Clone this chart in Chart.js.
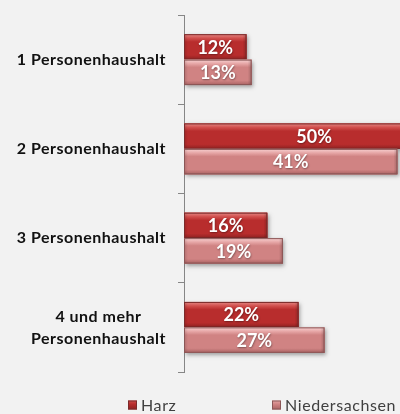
<!DOCTYPE html>
<html><head><meta charset="utf-8">
<script src="https://cdn.jsdelivr.net/npm/chart.js@4"></script>
<style>html,body{margin:0;padding:0;background:#f2f2f2;overflow:hidden}#wrap{width:400px;height:414px;position:relative}</style>
</head><body><div id="wrap"><canvas id="c"></canvas></div>
<script>
const categories = [["1 Personenhaushalt"], ["2 Personenhaushalt"], ["3 Personenhaushalt"], ["4 und mehr", "Personenhaushalt"]];
const seriesNames = ["Harz", "Niedersachsen"];
const harz = [12, 50, 16, 22];
const niedersachsen = [13, 41, 19, 27];

const barStyle = [
  {top: '#e58885', hi: '#d04e4c', main: '#b82d2d', low: '#8f2121', edge: '#7a2b2b'},
  {top: '#f8d2d2', hi: '#e6a6a6', main: '#d08383', low: '#a96262', edge: '#8a5656'}
];

const barPainter = {
  id: 'barPainter',
  afterDatasetsDraw(chart) {
    const ctx = chart.ctx, a = chart.chartArea;
    ctx.save();
    ctx.beginPath(); ctx.rect(a.left, a.top - 5, a.right - a.left + 5, a.bottom - a.top + 10); ctx.clip();
    chart.data.datasets.forEach((ds, di) => {
      const meta = chart.getDatasetMeta(di), st = barStyle[di];
      meta.data.forEach((el) => {
        const x0 = el.base, x1 = el.x, h = el.height, y0 = el.y - h / 2, w = x1 - x0;
        ctx.save();
        ctx.shadowColor = 'rgba(0,0,0,0.35)'; ctx.shadowBlur = 4; ctx.shadowOffsetX = 1.5; ctx.shadowOffsetY = 2;
        ctx.fillStyle = st.main; ctx.fillRect(x0, y0, w, h);
        ctx.restore();
        const g = ctx.createLinearGradient(0, y0, 0, y0 + h);
        g.addColorStop(0, st.top); g.addColorStop(0.16, st.hi); g.addColorStop(0.3, st.main);
        g.addColorStop(0.82, st.main); g.addColorStop(1, st.low);
        ctx.fillStyle = g; ctx.fillRect(x0, y0, w, h);
        const gl = ctx.createLinearGradient(x0, 0, x0 + 4, 0);
        gl.addColorStop(0, 'rgba(0,0,0,0.15)'); gl.addColorStop(1, 'rgba(0,0,0,0)');
        ctx.fillStyle = gl; ctx.fillRect(x0, y0, 4, h);
        const gr = ctx.createLinearGradient(x1 - 4, 0, x1, 0);
        gr.addColorStop(0, 'rgba(0,0,0,0)'); gr.addColorStop(1, 'rgba(0,0,0,0.2)');
        ctx.fillStyle = gr; ctx.fillRect(x1 - 4, y0, 4, h);
        ctx.strokeStyle = st.edge; ctx.lineWidth = 1;
        ctx.strokeRect(x0 + 0.5, y0 + 0.5, w - 1, h - 1);
      });
    });
    ctx.restore();
    // value labels
    ctx.save();
    ctx.font = 'bold 18px Lato';
    ctx.textAlign = 'center'; ctx.textBaseline = 'middle';
    ctx.fillStyle = '#ffffff';
    ctx.shadowColor = 'rgba(0,0,0,0.4)'; ctx.shadowBlur = 2; ctx.shadowOffsetX = 0.5; ctx.shadowOffsetY = 1;
    chart.data.datasets.forEach((ds, di) => {
      chart.getDatasetMeta(di).data.forEach((el, i) => {
        ctx.fillText(ds.data[i] + '%', (el.base + el.x) / 2, el.y + 1);
      });
    });
    ctx.restore();
  },
  afterDraw(chart) {
    const ctx = chart.ctx, ys = chart.scales.y;
    ctx.save();
    ctx.font = 'bold 16px Lato'; ctx.fillStyle = '#111111';
    ctx.letterSpacing = '0.5px';
    ctx.textAlign = 'center'; ctx.textBaseline = 'middle';
    categories.forEach((lines, i) => {
      const yc = ys.getPixelForValue(i);
      const wmax = Math.max(...lines.map(l => ctx.measureText(l).width));
      const cx = 166 - wmax / 2;
      lines.forEach((l, k) => ctx.fillText(l, cx, yc + (k - (lines.length - 1) / 2) * 22));
    });
    // legend
    const legendX = [128, 272], legendY = 405;
    ctx.font = '16px Lato'; ctx.letterSpacing = '0.6px'; ctx.textAlign = 'left';
    chart.data.datasets.forEach((ds, di) => {
      const st = barStyle[di], bx = legendX[di];
      const g = ctx.createLinearGradient(0, legendY - 4.5, 0, legendY + 4.5);
      g.addColorStop(0, st.hi); g.addColorStop(0.4, st.main); g.addColorStop(1, st.low);
      ctx.fillStyle = g; ctx.fillRect(bx, legendY - 4.5, 9, 9);
      ctx.strokeStyle = st.edge; ctx.lineWidth = 1; ctx.strokeRect(bx + 0.5, legendY - 4, 8, 8);
      ctx.fillStyle = '#404040';
      ctx.fillText(ds.label, bx + 13, legendY + 1);
    });
    ctx.restore();
  }
};

new Chart(document.getElementById('c'), {
  type: 'bar',
  data: {
    labels: categories,
    datasets: [
      {label: seriesNames[0], data: harz, backgroundColor: barStyle[0].main, borderWidth: 0},
      {label: seriesNames[1], data: niedersachsen, backgroundColor: barStyle[1].main, borderWidth: 0}
    ]
  },
  options: {
    indexAxis: 'y',
    responsive: true,
    maintainAspectRatio: false,
    animation: false,
    categoryPercentage: 0.57,
    barPercentage: 1.0,
    layout: {padding: {top: 15, bottom: 42, left: 0, right: 0}},
    plugins: {legend: {display: false}, tooltip: {enabled: false}},
    scales: {
      x: {display: false, min: 0, max: 41.5},
      y: {
        offset: true,
        grid: {drawOnChartArea: false, offset: true, tickLength: 6, color: '#868686'},
        border: {color: '#868686', width: 1},
        ticks: {display: false},
        afterFit(scale) { scale.width = 184; }
      }
    }
  },
  plugins: [barPainter]
});
</script>
</body></html>
